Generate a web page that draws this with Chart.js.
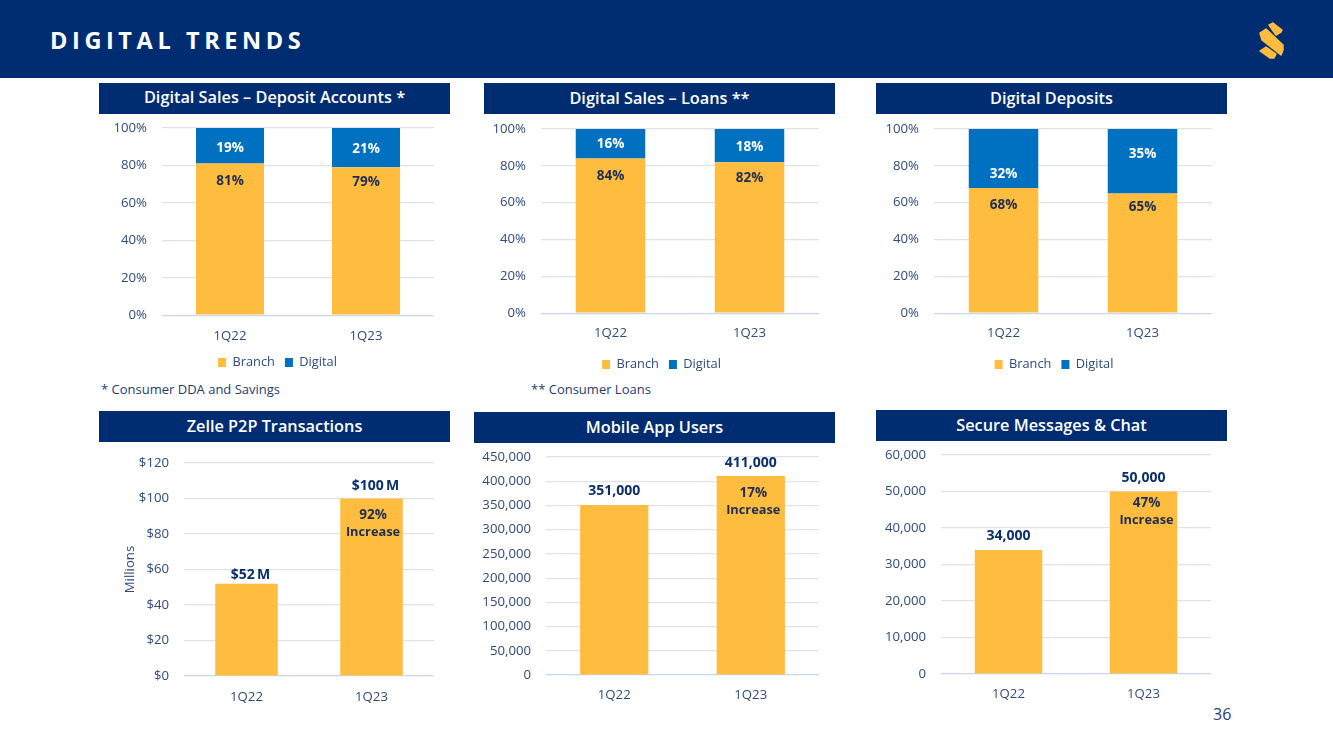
<!DOCTYPE html>
<html>
<head>
<meta charset="utf-8">
<title>Digital Trends</title>
<script src="https://cdn.jsdelivr.net/npm/chart.js@4"></script>
<style>
  html, body { margin: 0; padding: 0; background: #fff; }
  body { width: 1333px; height: 749px; position: relative; overflow: hidden; font-family: "Open Sans", sans-serif; }
  #band { position: absolute; left: 0; top: 0; width: 1333px; height: 78px; background: #002d72; }
  #title { position: absolute; left: 50px; top: 24px; color: #fff; font-size: 23.5px; line-height: 32px; font-weight: 700; letter-spacing: 4.6px; }
  #logo { position: absolute; left: 1250px; top: 14px; }
  .head { position: absolute; height: 31px; line-height: 30px; background: #002d72; color: #fff; text-align: center; font-size: 16.3px; font-weight: 600; }
  .note { position: absolute; color: #1f3b73; font-size: 13px; line-height: 18px; }
  #page { position: absolute; left: 1213px; top: 704px; color: #1f3b73; font-size: 16px; line-height: 20px; }
  canvas { position: absolute; }
</style>
</head>
<body>
<div id="band"></div>
<div id="title">DIGITAL TRENDS</div>
<svg id="logo" width="44" height="54" viewBox="1250 14 44 54">
  <g fill="#ffbd3f" stroke="#ffbd3f" stroke-width="1.5" stroke-linejoin="round">
    <polygon points="1269,25 1273,23 1282,30 1281,32 1276,35"/>
    <polygon points="1260,33 1266,29 1283,45 1283,50 1281,55 1262,40"/>
    <polygon points="1260,51 1266,47 1276,54 1274,58 1270,58"/>
  </g>
</svg>
<div class="head" style="left:99px;top:83px;width:351px;line-height:29px">Digital Sales – Deposit Accounts *</div>
<div class="head" style="left:484px;top:83px;width:351px">Digital Sales – Loans **</div>
<div class="head" style="left:876px;top:83px;width:351px">Digital Deposits</div>
<div class="head" style="left:99px;top:411px;width:351px">Zelle P2P Transactions</div>
<div class="head" style="left:474px;top:412px;width:361px">Mobile App Users</div>
<div class="head" style="left:876px;top:410px;width:351px">Secure Messages &amp; Chat</div>
<div class="note" style="left:101px;top:380px">* Consumer DDA and Savings</div>
<div class="note" style="left:531px;top:380px">** Consumer Loans</div>
<div id="page">36</div>

<canvas id="c1"></canvas>
<canvas id="c2"></canvas>
<canvas id="c3"></canvas>
<canvas id="c4"></canvas>
<canvas id="c5"></canvas>
<canvas id="c6"></canvas>

<script>
const quarters = ['1Q22', '1Q23'];

const depositBranch = [81, 79];
const depositDigital = [19, 21];
const loansBranch = [84, 82];
const loansDigital = [16, 18];
const depositsBranch = [68, 65];
const depositsDigital = [32, 35];

const zelleValues = [52, 100];
const mobileValues = [351000, 411000];
const messagesValues = [34000, 50000];

const zelleLabels = ['$52\u2009M', '$100\u2009M'];
const mobileLabels = ['351,000', '411,000'];
const messagesLabels = ['34,000', '50,000'];

const orange = '#ffbd3f';
const blue = '#0070c0';
const navy = '#0b2f6b';
const dark = '#1f2d50';
const tickc = '#2f4a7c';
const gridc = '#e0e2e9';
const basec = '#c8d6f0';

Chart.defaults.font.family = '"Open Sans", sans-serif';
Chart.defaults.font.size = 13.2;
Chart.defaults.animation = false;

// writes the labels on the bars and moves the legend under its own spot
function slidePlugin(spec) {
  return {
    id: 'slide',
    afterLayout(chart) {
      if (spec.legendX === undefined) return;
      const lg = chart.legend;
      const shift = spec.legendX - (lg.left + lg.right) / 2;
      lg.left += shift;
      lg.right += shift;
    },
    afterDatasetsDraw(chart) {
      const c = chart.ctx;
      c.save();
      c.textAlign = 'center';
      c.textBaseline = 'middle';
      spec.texts.forEach(function (t) {
        const bar = chart.getDatasetMeta(t.ds).data[t.i];
        c.fillStyle = t.color;
        c.font = '700 ' + (t.size || 13.5) + 'px "Open Sans", sans-serif';
        const y = t.mid ? (bar.y + bar.base) / 2 : bar.y;
        c.fillText(t.text, bar.x + (t.dx || 0), y + t.dy);
      });
      c.restore();
    }
  };
}

function makeChart(id, box, datasets, yopts, spec) {
  const cv = document.getElementById(id);
  const padTop = 12, padRight = 12;
  const hasLegend = datasets.length > 1;
  const h = padTop + box.h + box.xh + (hasLegend ? 34 : 0);
  const left = box.x - box.yw;
  cv.style.left = left + 'px';
  cv.style.top = (box.y - padTop) + 'px';
  cv.style.width = (box.yw + box.w + padRight) + 'px';
  cv.style.height = h + 'px';
  cv.width = box.yw + box.w + padRight;
  cv.height = h;
  if (spec.legendX !== undefined) spec.legendX -= left;

  new Chart(cv, {
    type: 'bar',
    data: { labels: quarters, datasets: datasets },
    options: {
      responsive: false,
      layout: { padding: { top: padTop, right: padRight, left: 0, bottom: 0 } },
      scales: {
        x: {
          stacked: hasLegend,
          grid: { display: false },
          border: { display: false },
          ticks: { color: tickc, padding: box.xpad, maxRotation: 0 },
          afterFit(s) { s.height = box.xh; s.paddingLeft = 0; s.paddingRight = 0; }
        },
        y: Object.assign({
          stacked: hasLegend,
          min: 0,
          border: { display: false },
          grid: {
            drawTicks: false,
            lineWidth: 1.2,
            color: function (ctx) { return ctx.tick.value === 0 ? basec : gridc; }
          },
          afterFit(s) { s.width = box.yw; s.paddingTop = 0; s.paddingBottom = 0; }
        }, yopts)
      },
      plugins: {
        tooltip: { enabled: false },
        legend: {
          display: hasLegend,
          position: 'bottom',
          labels: { color: tickc, boxWidth: 8, boxHeight: 9, padding: 10, font: { size: 12.8 } }
        }
      }
    },
    plugins: [slidePlugin(spec)]
  });
}

function stacked(branch, digital) {
  return [
    { label: 'Branch', data: branch, backgroundColor: orange, barPercentage: 1, categoryPercentage: 0.5 },
    { label: 'Digital', data: digital, backgroundColor: blue, barPercentage: 1, categoryPercentage: 0.5 }
  ];
}

function single(values) {
  return [{ label: 'Value', data: values, backgroundColor: orange, barPercentage: 1, categoryPercentage: 0.5 }];
}

function pctAxis() {
  return {
    max: 100,
    ticks: { stepSize: 20, color: tickc, padding: 15, callback: function (v) { return v + '%'; } }
  };
}

function numAxis(max, step) {
  return {
    max: max,
    ticks: { stepSize: step, color: tickc, padding: 15, callback: function (v) { return v.toLocaleString('en-US'); } }
  };
}

function pctTexts(branch, digital, branchDy, digitalDy) {
  const out = [];
  branch.forEach(function (v, i) {
    out.push({ ds: 0, i: i, text: v + '%', color: dark, dy: branchDy[i] });
    out.push({ ds: 1, i: i, text: digital[i] + '%', color: '#fff', dy: digitalDy[i], mid: true });
  });
  return out;
}

function topTexts(labels, dy, dx, pct, pctDy, pctDx) {
  const out = labels.map(function (t, i) {
    return { ds: 0, i: i, text: t, color: navy, dy: dy[i], dx: dx, size: 14 };
  });
  out.push({ ds: 0, i: 1, text: pct, color: dark, dy: pctDy, dx: pctDx });
  out.push({ ds: 0, i: 1, text: 'Increase', color: dark, dy: pctDy + 17, dx: pctDx, size: 12.8 });
  return out;
}

makeChart('c1', { x: 162, y: 128, w: 272, h: 186, yw: 50, xh: 31, xpad: 5.5 },
  stacked(depositBranch, depositDigital), pctAxis(),
  { legendX: 277.5, texts: pctTexts(depositBranch, depositDigital, [18, 15], [2, 2]) });

makeChart('c2', { x: 541, y: 129, w: 278, h: 183, yw: 50, xh: 35, xpad: 4.5 },
  stacked(loansBranch, loansDigital), pctAxis(),
  { legendX: 661.5, texts: pctTexts(loansBranch, loansDigital, [18, 16], [0, 2]) });

makeChart('c3', { x: 934, y: 129, w: 278, h: 183, yw: 50, xh: 35, xpad: 4.5 },
  stacked(depositsBranch, depositsDigital), pctAxis(),
  { legendX: 1054, texts: pctTexts(depositsBranch, depositsDigital, [17, 14], [16, -7]) });

makeChart('c4', { x: 184, y: 463, w: 250, h: 213, yw: 62, xh: 34, xpad: 5 },
  single(zelleValues),
  {
    max: 120,
    title: { display: true, text: 'Millions', color: tickc, padding: { top: 0, bottom: 0 } },
    ticks: { stepSize: 20, color: tickc, padding: 15, callback: function (v) { return '$' + v; } }
  },
  { texts: topTexts(zelleLabels, [-8.5, -12.5], 4, '92%', 17, 1.5) });

makeChart('c5', { x: 546, y: 457, w: 273, h: 218, yw: 66, xh: 34, xpad: 4 },
  single(mobileValues), numAxis(450000, 50000),
  { texts: topTexts(mobileLabels, [-14, -13], 0, '17%', 17, 2.5) });

makeChart('c6', { x: 941, y: 455, w: 270, h: 219, yw: 60, xh: 34, xpad: 4 },
  single(messagesValues), numAxis(60000, 10000),
  { texts: topTexts(messagesLabels, [-14, -13], 0, '47%', 12, 3) });
</script>
</body>
</html>
